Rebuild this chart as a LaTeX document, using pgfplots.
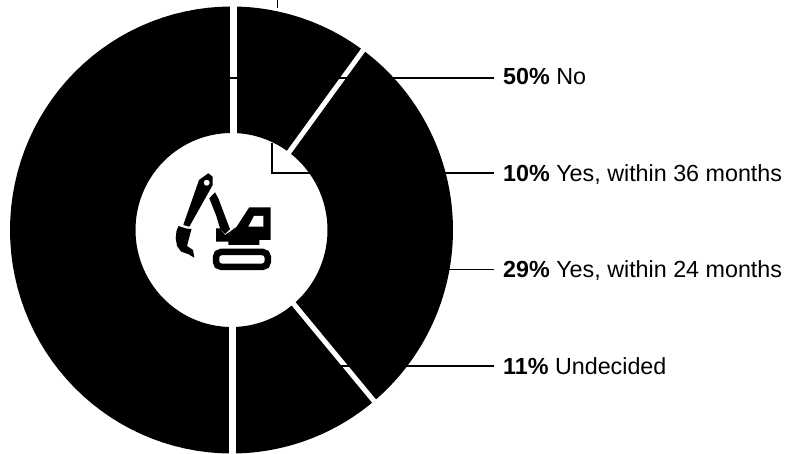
\documentclass[border=0pt]{standalone}
\usepackage{fontspec}
\setmainfont{Liberation Sans}
\usepackage{pgfplots}
\usepackage{pgfplotstable}
\pgfplotsset{compat=1.18}

% Share of respondents per ring segment, clockwise from twelve o'clock
\pgfplotstableread{
value
10
29
11
50
}\ringdata

% Ring geometry in drawing units
\def\cx{231.5}
\def\cy{230}
\def\rxo{221.5}
\def\ryo{223.5}
\def\rxi{96}
\def\ryi{97}
\def\gapx{232.5}

% Collects the outline of one ring segment between two angles into \segpts
\newcommand{\buildsegment}[2]{%
  \xdef\segpts{}%
  \foreach \k in {0,...,60}{%
    \pgfmathsetmacro\ang{#1+(#2-#1)*\k/60}%
    \pgfmathsetmacro\px{\cx+\rxo*sin(\ang)}%
    \pgfmathsetmacro\py{\cy-\ryo*cos(\ang)}%
    \xdef\segpts{\segpts (\px,\py)}%
  }%
  \foreach \k in {60,59,...,0}{%
    \pgfmathsetmacro\ang{#1+(#2-#1)*\k/60}%
    \pgfmathsetmacro\px{\cx+\rxi*sin(\ang)}%
    \pgfmathsetmacro\py{\cy-\ryi*cos(\ang)}%
    \xdef\segpts{\segpts (\px,\py)}%
  }%
}

\newcommand{\labeltext}[2]{\fontsize{23.3}{28}\selectfont\textbf{#1} #2}

\begin{document}
\begin{tikzpicture}
\path[use as bounding box] (0,0) rectangle (801pt,454pt);
\begin{axis}[
  at={(0,0)}, anchor=south west,
  scale only axis, width=801pt, height=454pt,
  xmin=0, xmax=801, ymin=0, ymax=454, y dir=reverse,
  hide axis, clip=true,
]
% ring segments
\def\startang{0}
\pgfplotsforeachungrouped \i in {0,...,3}{%
  \pgfplotstablegetelem{\i}{value}\of\ringdata
  \pgfmathsetmacro\endang{\startang+3.6*\pgfplotsretval}%
  \buildsegment{\startang}{\endang}%
  \edef\doplot{\noexpand\addplot[fill=black, draw=none] coordinates {\segpts} -- cycle;}%
  \doplot
  \global\let\startang\endang
}
% white separators between the segments
\def\startang{0}
\pgfplotsforeachungrouped \i in {0,1}{%
  \pgfplotstablegetelem{\i}{value}\of\ringdata
  \pgfmathsetmacro\endang{\startang+3.6*\pgfplotsretval}%
  \pgfmathsetmacro\gxa{\gapx+85*sin(\endang)}%
  \pgfmathsetmacro\gya{\cy-85*cos(\endang)}%
  \pgfmathsetmacro\gxb{\gapx+240*sin(\endang)}%
  \pgfmathsetmacro\gyb{\cy-240*cos(\endang)}%
  \edef\doplot{\noexpand\addplot[white, line width=5pt] coordinates {(\gxa,\gya) (\gxb,\gyb)};}%
  \doplot
  \global\let\startang\endang
}
\addplot[white, line width=6.5pt] coordinates {(233.3,0) (233.3,140)};
\addplot[white, line width=6.5pt] coordinates {(232.3,320) (232.3,454)};

% leader lines
\addplot[black, line width=1.2pt] coordinates {(230,78) (494,78)};
\addplot[black, line width=1.2pt] coordinates {(272,143) (272,173) (494,173)};
\addplot[black, line width=1.2pt] coordinates {(447,269.5) (494,269.5)};
\addplot[black, line width=1.2pt] coordinates {(338,366) (494,366)};
\addplot[black, line width=1.2pt] coordinates {(277.7,0) (277.7,8)};

% excavator icon: arm, bucket, boom, cab, window, track
\addplot[fill=black, draw=none] coordinates {(199,180) (208.3,173.3) (212.7,176.7) (212.7,185) (189.3,226.7) (183.3,225)} -- cycle;
\addplot[only marks, mark=*, mark size=2.7pt, white, mark options={draw=white, fill=white}] coordinates {(206.7,182.7)};
\addplot[fill=black, draw=none] coordinates {(178.5,226) (186,228.5) (191.5,229) (187,246) (193,250) (194.3,257.7) (189,254.5) (181,251.5) (177,246) (175.7,238) (176.5,231)} -- cycle;
\addplot[fill=black, draw=none] coordinates {(209.3,198.3) (215,192.3) (218.3,198.3) (230,229.3) (225,234) (220,228.3) (216,215)} -- cycle;
\addplot[fill=black, draw=none] coordinates {(216,228.3) (220,228.3) (225,235) (230,231.7) (236.7,226.7) (249.3,207.3) (270.7,207.3) (270.7,240) (259.3,240) (259.3,245) (228.3,245) (228.3,241.7) (216,241.7)} -- cycle;
\addplot[fill=white, draw=none] coordinates {(248.3,226.7) (263.3,226.7) (263.3,216) (254,216)} -- cycle;
\addplot[draw=black, line width=6.5pt, rounded corners=5pt] coordinates {(216,252) (267.8,252) (267.8,266.8) (216,266.8)} -- cycle;

% category labels
\node[anchor=base west, inner sep=0pt] at (axis cs:503,85) {\labeltext{50\%}{No}};
\node[anchor=base west, inner sep=0pt] at (axis cs:503,182) {\labeltext{10\%}{Yes, within 36 months}};
\node[anchor=base west, inner sep=0pt] at (axis cs:503,278) {\labeltext{29\%}{Yes, within 24 months}};
\node[anchor=base west, inner sep=0pt] at (axis cs:503,374.5) {\labeltext{11\%}{Undecided}};
\end{axis}
\end{tikzpicture}
\end{document}
